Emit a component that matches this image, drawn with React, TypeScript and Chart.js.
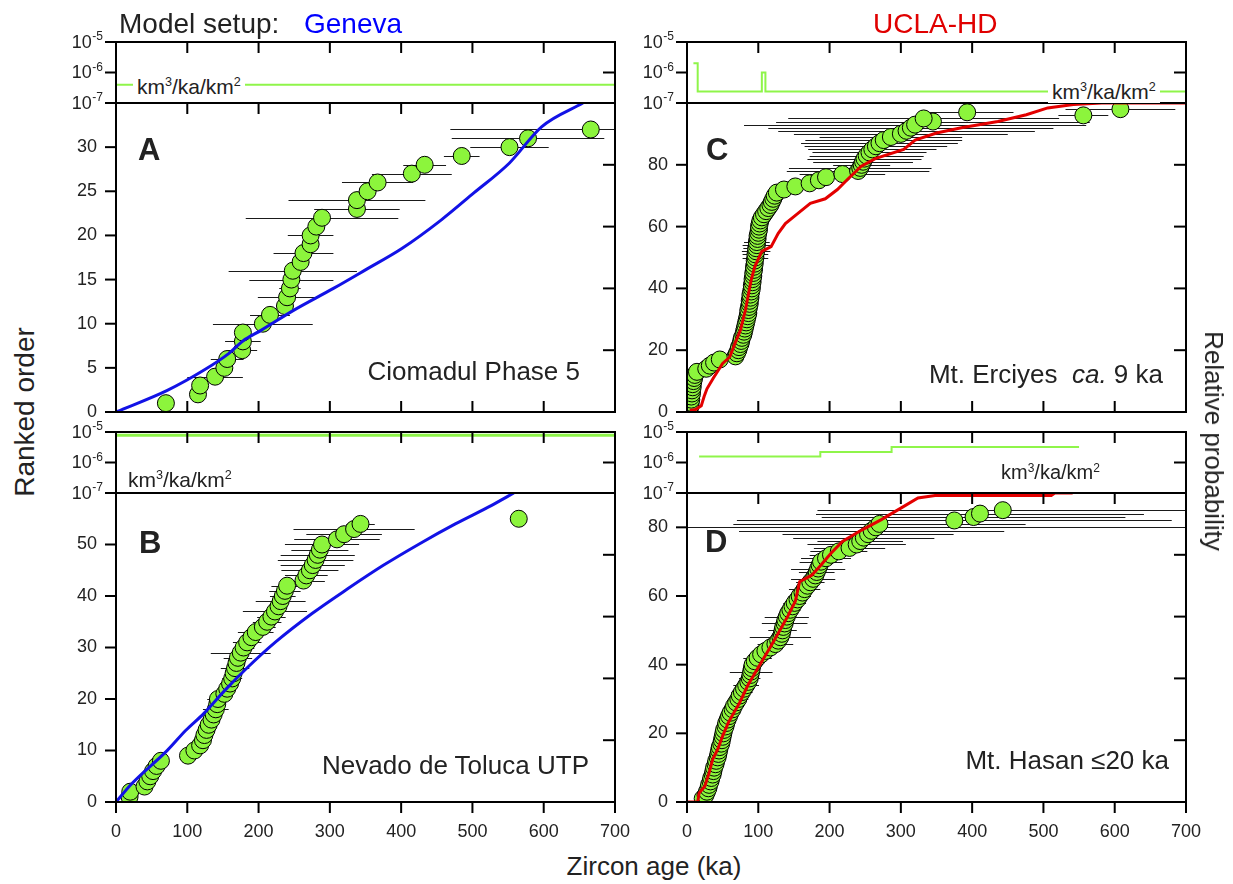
import React, { useEffect, useRef } from "react";
import { Chart, registerables } from "chart.js";
Chart.register(...registerables);

const FONT = '"Liberation Sans", Arial, Helvetica, sans-serif';
const GREEN = "#8cf53c";
const RATE_GREEN = "#8ff54a";
const BLUE = "#1212e6";
const RED = "#e30000";
const TXT = "#222222";

// ---------- Panel A : Ciomadul Phase 5 (Geneva) ----------
const A_AGES = [70, 115, 118, 139, 152, 156, 177, 178, 178, 206, 216, 237, 240, 244, 246, 248, 259, 263, 273, 273, 281, 289, 338, 338, 353, 367, 415, 433, 485, 552, 578, 666];
const A_ERR = [0, 0, 0, 39, 12, 23, 21, 25, 0, 70, 28, 12, 41, 15, 59, 90, 12, 42, 10, 32, 10, 107, 60, 96, 12, 50, 56, 30, 25, 55, 107, 197];
const A_MODEL_X = [0, 72, 123, 158, 178, 204, 249, 305, 350, 401, 456, 502, 552, 597, 655];
const A_MODEL_P = [0, 0.07, 0.135, 0.189, 0.23, 0.265, 0.329, 0.4, 0.46, 0.529, 0.621, 0.709, 0.806, 0.923, 1.0];
const A_RATE_X = [0, 700];
const A_RATE_Y = [4e-7, 4e-7];

// ---------- Panel B : Nevado de Toluca UTP (Geneva) ----------
const B_AGES = [19, 20, 40, 44, 48, 52, 57, 63, 101, 110, 118, 122, 124, 127, 130, 134, 137, 140, 142, 143, 152, 156, 160, 163, 165, 167, 169, 171, 175, 179, 184, 190, 196, 206, 212, 218, 223, 228, 231, 234, 237, 240, 263, 267, 272, 276, 280, 283, 286, 289, 310, 320, 334, 343, 565];
const B_ERR = [0, 0, 0, 0, 6, 0, 8, 0, 0, 0, 0, 8, 10, 0, 10, 12, 0, 18, 0, 15, 0, 10, 12, 14, 0, 20, 12, 20, 42, 15, 20, 0, 25, 18, 20, 20, 45, 0, 35, 18, 22, 22, 30, 30, 40, 45, 53, 52, 40, 52, 60, 53, 85, 20, 0];
const B_MODEL_X = [0, 22, 72, 98, 123, 153, 183, 224, 275, 325, 375, 426, 476, 527, 558];
const B_MODEL_P = [0, 0.059, 0.167, 0.232, 0.286, 0.362, 0.432, 0.518, 0.61, 0.69, 0.766, 0.836, 0.9, 0.96, 1.0];
const B_RATE_X = [0, 700];
const B_RATE_Y = [7.8e-6, 7.8e-6];

// ---------- Panel C : Mt. Erciyes ca. 9 ka (UCLA-HD) ----------
const C_AGES = [4, 5, 5, 6, 6, 7, 7, 8, 8, 9, 10, 11, 14, 27, 32, 38, 46, 68, 70, 72, 73, 75, 76, 77, 79, 80, 81, 82, 83, 84, 85, 86, 86, 87, 88, 88, 89, 89, 90, 91, 91, 92, 92, 93, 93, 94, 94, 95, 95, 96, 96, 97, 97, 98, 98, 99, 99, 100, 101, 101, 102, 103, 105, 108, 111, 114, 117, 119, 121, 123, 126, 136, 152, 172, 185, 195, 218, 240, 243, 245, 247, 249, 252, 256, 260, 265, 270, 276, 286, 300, 308, 314, 320, 345, 332, 556, 393, 608];
const C_ERR = [0, 0, 0, 0, 0, 0, 0, 0, 0, 0, 0, 0, 0, 0, 0, 0, 0, 0, 0, 0, 0, 0, 0, 0, 0, 0, 0, 0, 0, 0, 0, 0, 0, 0, 0, 0, 0, 0, 0, 0, 0, 0, 0, 0, 0, 0, 0, 0, 0, 18, 18, 20, 18, 20, 18, 0, 0, 0, 0, 0, 0, 0, 0, 0, 0, 0, 0, 0, 0, 0, 0, 0, 0, 0, 0, 0, 60, 100, 100, 40, 70, 80, 80, 80, 90, 100, 110, 110, 100, 150, 180, 200, 240, 220, 190, 35, 65, 77];
const C_MODEL_X = [4, 12, 20, 24, 28, 37, 50, 60, 67, 75, 82, 90, 95, 105, 118, 128, 138, 153, 173, 194, 211, 224, 244, 264, 304, 320, 350, 385, 436, 476, 506, 542, 582, 700];
const C_MODEL_P = [0.005, 0.008, 0.02, 0.05, 0.075, 0.11, 0.157, 0.178, 0.22, 0.265, 0.33, 0.427, 0.47, 0.52, 0.535, 0.578, 0.61, 0.638, 0.675, 0.69, 0.72, 0.75, 0.795, 0.82, 0.85, 0.88, 0.903, 0.92, 0.94, 0.962, 0.984, 0.995, 1.0, 1.0];
const C_RATE_X = [9, 15, 105, 110, 700];
const C_RATE_Y = [2e-6, 2.4e-7, 1e-6, 2.4e-7, 2.4e-7];

// ---------- Panel D : Mt. Hasan <=20 ka (UCLA-HD) ----------
const D_AGES = [22, 26, 28, 30, 31, 33, 34, 36, 37, 38, 40, 41, 43, 44, 45, 46, 48, 49, 50, 51, 52, 54, 55, 57, 59, 61, 64, 66, 69, 72, 74, 77, 80, 83, 86, 88, 89, 90, 91, 92, 95, 99, 104, 110, 117, 124, 128, 131, 133, 134, 135, 137, 138, 140, 142, 145, 148, 151, 155, 158, 162, 165, 169, 173, 177, 180, 182, 184, 186, 188, 195, 202, 213, 228, 238, 243, 248, 254, 259, 265, 270, 375, 402, 411, 443];
const D_ERR = [0, 0, 0, 0, 5, 0, 0, 6, 0, 0, 0, 8, 0, 0, 0, 10, 0, 0, 0, 12, 0, 10, 0, 0, 12, 0, 11, 0, 0, 14, 0, 15, 0, 18, 0, 15, 0, 30, 0, 12, 0, 20, 0, 12, 0, 25, 0, 43, 0, 20, 0, 32, 0, 31, 0, 14, 0, 16, 0, 16, 0, 22, 0, 20, 31, 0, 25, 38, 0, 30, 35, 30, 40, 50, 69, 60, 99, 120, 186, 450, 205, 305, 213, 230, 260];
const D_MODEL_X = [0, 15, 17, 25, 31, 36, 43, 50, 58, 66, 74, 85, 96, 107, 118, 129, 142, 152, 158, 175, 188, 202, 218, 245, 272, 300, 324, 348, 511, 516, 541];
const D_MODEL_P = [0, 0, 0.029, 0.051, 0.094, 0.138, 0.17, 0.214, 0.257, 0.29, 0.322, 0.376, 0.42, 0.463, 0.506, 0.55, 0.604, 0.65, 0.713, 0.734, 0.767, 0.805, 0.843, 0.88, 0.913, 0.951, 0.984, 0.992, 0.992, 1.0, 1.0];
const D_RATE_X = [17, 187, 287, 550];
const D_RATE_Y = [1.57e-6, 2.23e-6, 3.24e-6, 3.24e-6];

// ---------- axis tick values ----------
const X_TICKS_IN = [100, 200, 300, 400, 500, 600];
const X_TICKS_OUT = [0, 100, 200, 300, 400, 500, 600, 700];
const REL_TICKS = [0.2, 0.4, 0.6, 0.8];
const LOG_TICKS = [1e-7, 1e-6, 1e-5];
const LOG_EXP = ["-7", "-6", "-5"];

// ---------- layout ----------
const AXW = 60;
const PADT = 14;
const PADR = 24;
const TLEN = 11;
const PLOTW = 499;
const COLS = [116, 687];
const ROWS = [
  { s: 42, m: 103, b: 412 },
  { s: 432, m: 493, b: 802 },
];

function fixY(w: number) {
  return (s: any) => {
    s.width = w;
    s.paddingTop = 0;
    s.paddingBottom = 0;
  };
}
function fixX(h: number) {
  return (s: any) => {
    s.height = h;
    s.paddingLeft = 0;
    s.paddingRight = 0;
  };
}

type BoxCfg = {
  top: number[];
  bottom: number[];
  bottomOut: number[];
  left: number[];
  right: number[];
  rightAxis: string;
  logLabels: boolean;
};

function makeBox(cfg: BoxCfg) {
  return {
    id: "boxTicks",
    afterDraw(chart: any) {
      const ctx = chart.ctx;
      const a = chart.chartArea;
      const sx = chart.scales.x;
      const sy = chart.scales.y;
      const rs = chart.scales[cfg.rightAxis];
      ctx.save();
      ctx.fillStyle = "#000";
      const L = a.left, R = a.right, T = a.top, B = a.bottom;
      ctx.fillRect(L - 1, T - 1, R - L + 2, 2);
      ctx.fillRect(L - 1, B - 1, R - L + 2, 2);
      ctx.fillRect(L - 1, T - 1, 2, B - T + 2);
      ctx.fillRect(R - 1, T - 1, 2, B - T + 2);
      for (const v of cfg.top) {
        const x = sx.getPixelForValue(v);
        ctx.fillRect(x - 1, T, 2, TLEN);
      }
      for (const v of cfg.bottom) {
        const x = sx.getPixelForValue(v);
        ctx.fillRect(x - 1, B - TLEN, 2, TLEN);
      }
      for (const v of cfg.bottomOut) {
        const x = sx.getPixelForValue(v);
        ctx.fillRect(x - 1, B, 2, TLEN);
      }
      for (const v of cfg.left) {
        const y = sy.getPixelForValue(v);
        ctx.fillRect(L - TLEN, y - 1, TLEN, 2);
      }
      for (const v of cfg.right) {
        const y = rs.getPixelForValue(v);
        ctx.fillRect(R - TLEN - 1, y - 1, TLEN + 1, 2);
      }
      if (cfg.logLabels) {
        ctx.fillStyle = TXT;
        LOG_TICKS.forEach((v, i) => {
          const y = sy.getPixelForValue(v);
          ctx.font = `12px ${FONT}`;
          ctx.textAlign = "right";
          ctx.textBaseline = "alphabetic";
          const ex = L - TLEN - 2;
          ctx.fillText(LOG_EXP[i], ex, y - 2);
          const w = ctx.measureText(LOG_EXP[i]).width;
          ctx.font = `18px ${FONT}`;
          ctx.textBaseline = "middle";
          ctx.fillText("10", ex - w - 0.5, y + 1);
        });
      }
      ctx.restore();
    },
  };
}

function makeErr(ages: number[], err: number[]) {
  return {
    id: "errBars",
    beforeDatasetsDraw(chart: any) {
      const { ctx, chartArea: a, scales } = chart;
      ctx.save();
      ctx.beginPath();
      ctx.rect(a.left, a.top, a.right - a.left, a.bottom - a.top);
      ctx.clip();
      ctx.strokeStyle = "#1a1a1a";
      ctx.lineWidth = 1;
      ctx.beginPath();
      ages.forEach((age, i) => {
        const e = err[i];
        if (!e) return;
        const y = Math.round(scales.y.getPixelForValue(i + 1)) + 0.5;
        ctx.moveTo(scales.x.getPixelForValue(age - e), y);
        ctx.lineTo(scales.x.getPixelForValue(age + e), y);
      });
      ctx.stroke();
      ctx.restore();
    },
  };
}

type Panel = {
  ages: number[];
  err: number[];
  modelX: number[];
  modelP: number[];
  modelColor: string;
  smooth: boolean;
  rateX: number[];
  rateY: number[];
  rateWidth: number;
  stepped: boolean;
  yMax: number;
  yStep: number;
  topTicks: boolean;
};

const PANELS: Panel[][] = [
  [
    { ages: A_AGES, err: A_ERR, modelX: A_MODEL_X, modelP: A_MODEL_P, modelColor: BLUE, smooth: true, rateX: A_RATE_X, rateY: A_RATE_Y, rateWidth: 2, stepped: false, yMax: 35, yStep: 5, topTicks: true },
    { ages: C_AGES, err: C_ERR, modelX: C_MODEL_X, modelP: C_MODEL_P, modelColor: RED, smooth: false, rateX: C_RATE_X, rateY: C_RATE_Y, rateWidth: 2, stepped: true, yMax: 100, yStep: 20, topTicks: false },
  ],
  [
    { ages: B_AGES, err: B_ERR, modelX: B_MODEL_X, modelP: B_MODEL_P, modelColor: BLUE, smooth: true, rateX: B_RATE_X, rateY: B_RATE_Y, rateWidth: 3, stepped: false, yMax: 60, yStep: 10, topTicks: false },
    { ages: D_AGES, err: D_ERR, modelX: D_MODEL_X, modelP: D_MODEL_P, modelColor: RED, smooth: false, rateX: D_RATE_X, rateY: D_RATE_Y, rateWidth: 2, stepped: true, yMax: 90, yStep: 20, topTicks: true },
  ],
];

const hiddenGrid = (len: number) => ({
  display: true,
  drawOnChartArea: false,
  drawTicks: true,
  tickLength: len,
  color: "rgba(0,0,0,0)",
  lineWidth: 0,
});

function leftTicks(p: Panel): number[] {
  const out: number[] = [];
  for (let v = 0; v < p.yMax - 1e-9; v += p.yStep) out.push(v);
  return out;
}

function mainConfig(p: Panel, bottomRow: boolean): any {
  const xScale: any = bottomRow
    ? {
        type: "linear",
        min: 0,
        max: 700,
        position: "bottom",
        ticks: { stepSize: 100, autoSkip: false, maxRotation: 0, font: { size: 18, family: FONT }, color: TXT, padding: 8 },
        grid: hiddenGrid(TLEN),
        border: { display: false },
        afterFit: fixX(48),
      }
    : { type: "linear", min: 0, max: 700, display: false };
  return {
    type: "scatter",
    data: {
      datasets: [
        {
          type: "line",
          data: p.modelX.map((x, i) => ({ x, y: p.modelP[i] })),
          yAxisID: "yR",
          borderColor: p.modelColor,
          borderWidth: 3,
          pointRadius: 0,
          fill: false,
          cubicInterpolationMode: p.smooth ? "monotone" : "default",
          clip: 0,
        },
        {
          type: "scatter",
          data: p.ages.map((a, i) => ({ x: a, y: i + 1 })),
          yAxisID: "y",
          pointRadius: 8.5,
          pointBackgroundColor: GREEN,
          pointBorderColor: "#000",
          pointBorderWidth: 1,
          clip: 0,
        },
      ],
    },
    options: {
      responsive: false,
      animation: false,
      events: [],
      layout: { padding: { left: 0, top: PADT, right: PADR, bottom: bottomRow ? 0 : 14 } },
      plugins: { legend: { display: false }, tooltip: { enabled: false } },
      scales: {
        x: xScale,
        y: {
          type: "linear",
          min: 0,
          max: p.yMax,
          position: "left",
          ticks: { stepSize: p.yStep, autoSkip: false, font: { size: 18, family: FONT }, color: TXT, padding: 8 },
          grid: hiddenGrid(TLEN),
          border: { display: false },
          afterBuildTicks: (s: any) => {
            s.ticks = s.ticks.filter((t: any) => t.value < p.yMax - 1e-9);
          },
          afterFit: fixY(AXW),
        },
        yR: { type: "linear", min: 0, max: 1, display: false, position: "right" },
      },
    },
    plugins: [
      makeErr(p.ages, p.err),
      makeBox({
        top: p.topTicks ? X_TICKS_IN : [],
        bottom: bottomRow ? [] : X_TICKS_IN,
        bottomOut: bottomRow ? X_TICKS_OUT : [],
        left: leftTicks(p),
        right: REL_TICKS,
        rightAxis: "yR",
        logLabels: false,
      }),
    ],
  };
}

function stripConfig(p: Panel): any {
  return {
    type: "line",
    data: {
      datasets: [
        {
          data: p.rateX.map((x, i) => ({ x, y: p.rateY[i] })),
          borderColor: RATE_GREEN,
          borderWidth: p.rateWidth,
          pointRadius: 0,
          stepped: p.stepped ? "before" : false,
          fill: false,
          clip: 0,
        },
      ],
    },
    options: {
      responsive: false,
      animation: false,
      events: [],
      layout: { padding: { left: 0, top: PADT, right: PADR, bottom: 12 } },
      plugins: { legend: { display: false }, tooltip: { enabled: false } },
      scales: {
        x: { type: "linear", min: 0, max: 700, display: false },
        y: {
          type: "logarithmic",
          min: 1e-7,
          max: 1e-5,
          position: "left",
          afterBuildTicks: (s: any) => {
            s.ticks = LOG_TICKS.map((v) => ({ value: v }));
          },
          ticks: { display: false },
          grid: { display: false },
          border: { display: false },
          afterFit: fixY(AXW),
        },
      },
    },
    plugins: [makeBox({ top: X_TICKS_IN, bottom: [], bottomOut: [], left: LOG_TICKS, right: [1e-6], rightAxis: "y", logLabels: true })],
  };
}

function ChartCanvas(props: { left: number; top: number; width: number; height: number; config: any }) {
  const ref = useRef<HTMLCanvasElement | null>(null);
  useEffect(() => {
    if (!ref.current) return;
    const ch = new Chart(ref.current, props.config);
    return () => ch.destroy();
  }, []);
  return (
    <canvas
      ref={ref}
      width={props.width}
      height={props.height}
      style={{ position: "absolute", left: props.left, top: props.top, width: props.width, height: props.height }}
    />
  );
}

function Txt(props: { x: number; cy: number; size: number; color?: string; bold?: boolean; align?: "left" | "right" | "center"; children: any }) {
  const tx = props.align === "right" ? "translateX(-100%)" : props.align === "center" ? "translateX(-50%)" : "none";
  return (
    <div
      style={{
        position: "absolute",
        left: props.x,
        top: props.cy - 0.49 * props.size,
        fontSize: props.size,
        lineHeight: 1,
        fontFamily: FONT,
        fontWeight: props.bold ? "bold" : "normal",
        color: props.color || TXT,
        whiteSpace: "nowrap",
        transform: tx,
      }}
    >
      {props.children}
    </div>
  );
}

function Unit(props: { x: number; top: number; size: number; bg?: boolean }) {
  const sup: React.CSSProperties = { fontSize: "0.6em", position: "relative", top: "-0.62em" };
  return (
    <div
      style={{
        position: "absolute",
        left: props.x - (props.bg ? 4 : 0),
        top: props.top,
        fontSize: props.size,
        lineHeight: 1,
        fontFamily: FONT,
        color: TXT,
        whiteSpace: "nowrap",
        background: props.bg ? "#fff" : "transparent",
        padding: props.bg ? "2px 4px 1px 4px" : 0,
      }}
    >
      km<span style={sup}>3</span>/ka/km<span style={sup}>2</span>
    </div>
  );
}

function Rot(props: { x: number; y: number; size: number; deg: number; children: any }) {
  return (
    <div
      style={{
        position: "absolute",
        left: props.x,
        top: props.y,
        fontSize: props.size,
        lineHeight: 1,
        fontFamily: FONT,
        color: TXT,
        whiteSpace: "nowrap",
        transform: `translate(-50%, -50%) rotate(${props.deg}deg)`,
      }}
    >
      {props.children}
    </div>
  );
}

export default function App() {
  const canvases: any[] = [];
  ROWS.forEach((r, ri) => {
    COLS.forEach((cx, ci) => {
      const p = PANELS[ri][ci];
      const left = cx - AXW;
      const width = AXW + PLOTW + PADR;
      canvases.push(
        <ChartCanvas key={`s${ri}${ci}`} left={left} top={r.s - PADT} width={width} height={PADT + (r.m - r.s) + 12} config={stripConfig(p)} />
      );
      canvases.push(
        <ChartCanvas
          key={`m${ri}${ci}`}
          left={left}
          top={r.m - PADT}
          width={width}
          height={PADT + (r.b - r.m) + (ri === 1 ? 48 : 14)}
          config={mainConfig(p, ri === 1)}
        />
      );
    });
  });
  return (
    <div style={{ position: "absolute", left: 0, top: 0, width: 1233, height: 884, background: "#fff", overflow: "hidden" }}>
      {canvases}
      <Txt x={119} cy={23.3} size={28}>Model setup:</Txt>
      <Txt x={304} cy={23.3} size={28} color="#0000ff">Geneva</Txt>
      <Txt x={873} cy={23.3} size={28} color="#e00000">UCLA-HD</Txt>

      <Txt x={138} cy={149} size={31} bold>A</Txt>
      <Txt x={139} cy={542} size={31} bold>B</Txt>
      <Txt x={706} cy={149} size={31} bold>C</Txt>
      <Txt x={705} cy={541} size={31} bold>D</Txt>

      <Txt x={580} cy={371} size={26} align="right">Ciomadul Phase 5</Txt>
      <Txt x={589} cy={765} size={26} align="right">Nevado de Toluca UTP</Txt>
      <Txt x={1163} cy={374} size={26} align="right">
        Mt. Erciyes&nbsp;&nbsp;<i>ca.</i> 9 ka
      </Txt>
      <Txt x={1169} cy={760} size={26} align="right">Mt. Hasan ≤20 ka</Txt>

      <Unit x={137} top={74} size={21} bg />
      <Unit x={128} top={469} size={21} />
      <Unit x={1052} top={79} size={21} bg />
      <Unit x={1001} top={462} size={20} />

      <Rot x={25} y={412} size={28} deg={-90}>Ranked order</Rot>
      <Rot x={1214} y={441} size={26} deg={90}>Relative probability</Rot>
      <Txt x={654} cy={866} size={26} align="center">Zircon age (ka)</Txt>
    </div>
  );
}
